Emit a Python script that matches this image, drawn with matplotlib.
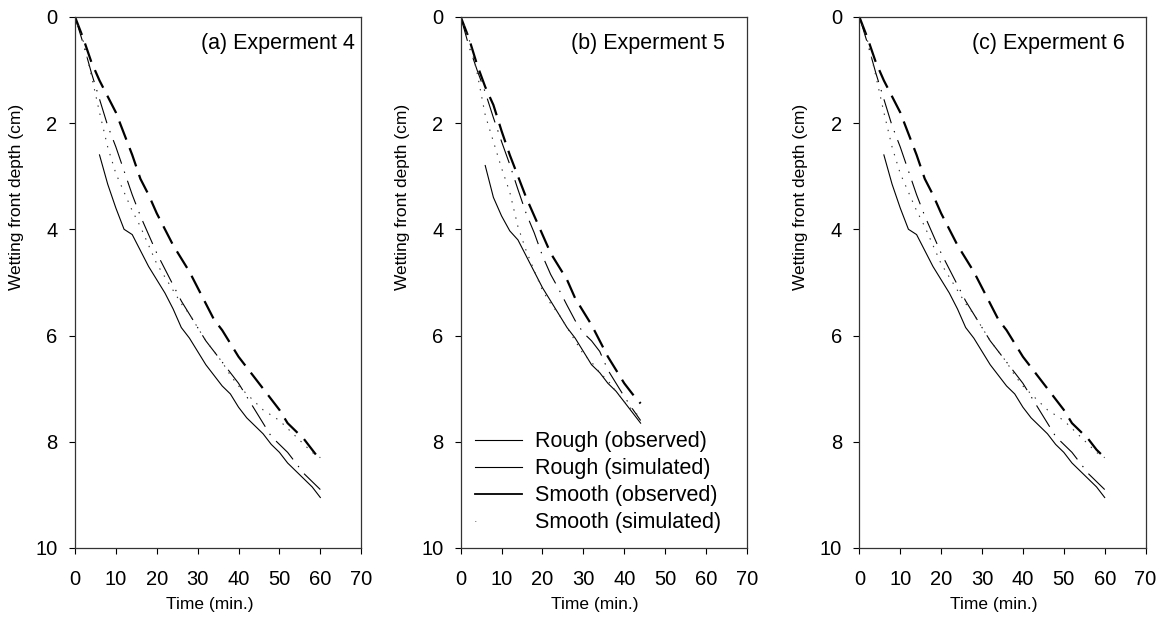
import matplotlib
matplotlib.use('Agg')
import matplotlib.pyplot as plt
from matplotlib.lines import Line2D

plt.rcParams['font.family'] = ['Liberation Sans', 'DejaVu Sans']
plt.rcParams['lines.scale_dashes'] = False

# (a) Experiment 4
t4 = [0, 2, 4, 6, 8, 10, 12, 14, 16, 18, 20, 22, 24, 26, 28, 30, 32, 34, 36, 38, 40,
      42, 44, 46, 48, 50, 52, 54, 56, 58, 60]
rough_obs4 = [None, None, None, 2.6, 3.15, 3.6, 4.0, 4.1, 4.4, 4.7, 4.95, 5.2, 5.5, 5.85, 6.05,
              6.3, 6.55, 6.75, 6.95, 7.1, 7.35, 7.55, 7.7, 7.85, 8.05, 8.2, 8.4, 8.55, 8.7, 8.85, 9.05]
rough_sim4 = [0, 0.5, 1.05, 1.55, 2.05, 2.45, 2.9, 3.35, 3.75, 4.1, 4.45, 4.75, 5.05, 5.35, 5.6,
              5.85, 6.1, 6.3, 6.5, 6.7, 6.9, 7.15, 7.4, 7.65, 7.9, 8.05, 8.2, 8.4, 8.6, 8.75, 8.9]
smooth_obs4 = [0, 0.4, 0.85, 1.2, 1.5, 1.8, 2.2, 2.6, 3.05, 3.35, 3.7, 4.0, 4.3, 4.55, 4.8,
               5.1, 5.4, 5.7, 5.9, 6.15, 6.4, 6.6, 6.8, 7.0, 7.2, 7.4, 7.65, 7.8, 7.95, 8.15, 8.35]
smooth_sim4 = [0, 0.45, 1.1, 1.8, 2.45, 2.95, 3.3, 3.65, 3.95, 4.3, 4.65, 4.9, 5.15, 5.4, 5.6,
               5.85, 6.1, 6.3, 6.5, 6.75, 6.95, 7.1, 7.25, 7.4, 7.5, 7.6, 7.75, 7.9, 8.05, 8.2, 8.3]

# (b) Experiment 5
t5 = [0, 2, 4, 6, 8, 10, 12, 14, 16, 18, 20, 22, 24, 26, 28, 30, 32, 34, 36, 38, 40, 42, 44]
rough_obs5 = [None, None, None, 2.8, 3.4, 3.75, 4.03, 4.2, 4.5, 4.8, 5.1, 5.35, 5.6, 5.85, 6.05,
              6.3, 6.55, 6.7, 6.9, 7.05, 7.25, 7.45, 7.65]
rough_sim5 = [0, 0.55, 1.0, 1.42, 1.9, 2.35, 2.78, 3.25, 3.7, 4.07, 4.5, 4.85, 5.13, 5.43, 5.72,
              5.95, 6.1, 6.3, 6.65, 6.9, 7.15, 7.38, 7.6]
smooth_obs5 = [0, 0.4, 0.9, 1.32, 1.66, 2.15, 2.6, 3.0, 3.4, 3.75, 4.1, 4.45, 4.7, 4.95, 5.3,
               5.55, 5.8, 6.1, 6.4, 6.65, 6.9, 7.1, 7.28]
smooth_sim5 = [0, 0.4, 1.05, 1.85, 2.35, 2.85, 3.3, 3.95, 4.4, 4.78, 5.15, 5.4, 5.6, 5.85, 6.1,
               6.35, 6.5, 6.7, 6.85, 7.05, 7.25, 7.4, 7.55]

# (c) Experiment 6
t6 = t4
rough_obs6 = [None, None, None, 2.6, 3.15, 3.6, 4.0, 4.1, 4.4, 4.7, 4.95, 5.2, 5.5, 5.85, 6.05,
              6.3, 6.55, 6.75, 6.95, 7.1, 7.35, 7.55, 7.7, 7.85, 8.05, 8.2, 8.4, 8.55, 8.7, 8.85, 9.05]
rough_sim6 = [0, 0.5, 1.05, 1.55, 2.05, 2.45, 2.9, 3.35, 3.75, 4.1, 4.45, 4.75, 5.05, 5.35, 5.6,
              5.85, 6.1, 6.3, 6.5, 6.7, 6.9, 7.15, 7.4, 7.65, 7.9, 8.05, 8.2, 8.4, 8.6, 8.75, 8.9]
smooth_obs6 = [0, 0.4, 0.85, 1.2, 1.5, 1.8, 2.2, 2.6, 3.05, 3.35, 3.7, 4.0, 4.3, 4.55, 4.8,
               5.1, 5.4, 5.7, 5.9, 6.15, 6.4, 6.6, 6.8, 7.0, 7.2, 7.4, 7.65, 7.8, 7.95, 8.15, 8.3]
smooth_sim6 = [0, 0.45, 1.1, 1.8, 2.45, 2.95, 3.3, 3.65, 3.95, 4.3, 4.65, 4.9, 5.15, 5.4, 5.6,
               5.85, 6.1, 6.3, 6.5, 6.75, 6.95, 7.1, 7.25, 7.4, 7.5, 7.6, 7.75, 7.9, 8.05, 8.2, 8.3]

titles = ['(a) Experment 4', '(b) Experment 5', '(c) Experment 6']
legend_labels = ['Rough (observed)', 'Rough (simulated)', 'Smooth (observed)', 'Smooth (simulated)']

panels = [
    (t4, rough_obs4, rough_sim4, smooth_obs4, smooth_sim4),
    (t5, rough_obs5, rough_sim5, smooth_obs5, smooth_sim5),
    (t6, rough_obs6, rough_sim6, smooth_obs6, smooth_sim6),
]

fig = plt.figure(figsize=(11.66, 6.22), dpi=100)
lefts = [0.0643, 0.3951, 0.737]
title_x = [0.979, 0.923, 0.928]
W, B, H = 0.2455, 0.119, 0.854

for i, (t, ro, rs, so, ss) in enumerate(panels):
    ax = fig.add_axes([lefts[i], B, W, H])
    ro_t = [tt for tt, v in zip(t, ro) if v is not None]
    ro_v = [v for v in ro if v is not None]
    ax.plot(ro_t, ro_v, color='black', lw=0.8)
    ax.plot(t, rs, color='black', lw=0.8, dashes=(18, 6, 1, 6))
    ax.plot(t, so, color='black', lw=1.6, dashes=(14, 6.5))
    ax.plot(t, ss, color='#333333', lw=0.8, dashes=(1, 5))

    ax.set_xlim(0, 70)
    ax.set_ylim(10, 0)
    ax.set_xticks(range(0, 71, 10))
    ax.set_yticks(range(0, 11, 2))
    ax.tick_params(direction='out', length=4.5, width=0.8, labelsize=14.5)
    ax.tick_params(axis='x', pad=11)
    ax.tick_params(axis='y', pad=8)
    for s in ax.spines.values():
        s.set_linewidth(0.9)
        s.set_color('#333333')
    ax.set_xlabel('Time (min.)', fontsize=12.5)
    ax.set_ylabel('Wetting front depth (cm)', fontsize=12.5)
    ax.xaxis.set_label_coords(0.47, -0.093)
    ax.yaxis.set_label_coords(-0.178, 0.66)
    ax.text(title_x[i], 0.94, titles[i], transform=ax.transAxes, ha='right', va='baseline', fontsize=15.5)

    if i == 1:
        handles = [Line2D([], [], color='black', lw=0.8),
                   Line2D([], [], color='black', lw=0.8),
                   Line2D([], [], color='black', lw=1.3),
                   Line2D([], [], color='black', lw=0.6, dashes=(0.5, 40))]
        ax.legend(handles, legend_labels, loc='upper left', bbox_to_anchor=(0.05, 0.22),
                  frameon=False, fontsize=15.5, handlelength=2.2, handletextpad=0.6,
                  labelspacing=0.28, borderpad=0, borderaxespad=0)

fig.savefig('out.png', dpi=100)
